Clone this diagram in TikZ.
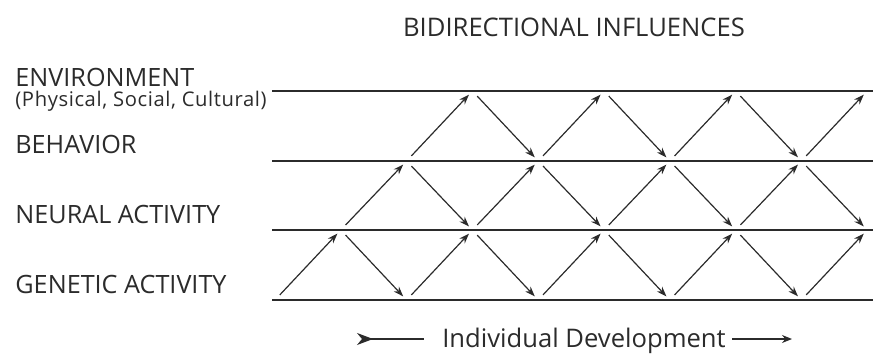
\documentclass[tikz,border=0pt]{standalone}
\usepackage{fontspec}
\setmainfont{Open Sans}
\newfontfamily\notefont[LetterSpace=3]{Open Sans}
\usetikzlibrary{arrows.meta,positioning,calc}
\definecolor{clInk}{HTML}{2B2B2B}
\tikzset{
  level/.style={anchor=base west, inner sep=0pt, text=clInk,
                font=\fontsize{12.6}{15}\selectfont},
  levelnote/.style={level, font=\notefont\fontsize{10.1}{12}\selectfont},
  caption/.style={anchor=base, inner sep=0pt, text=clInk,
                  font=\fontsize{12.8}{15}\selectfont},
  stratum/.style={line width=1pt, draw=clInk},
  influence/.style={-{Stealth[length=5pt,width=3.6pt]}, line width=0.6pt, draw=clInk,
                    shorten <=3.5pt, shorten >=2.5pt},
  timeline/.style={line width=0.6pt, draw=clInk},
}

\begin{document}
\begin{tikzpicture}[x=0.5pt, y=-0.5pt]
  \useasboundingbox (0,0) rectangle (873,354);
  \node[caption] (title) at (574,36) {BIDIRECTIONAL INFLUENCES};
  \node[level] (env) at (15,86) {ENVIRONMENT};
  \node[levelnote] (envnote) at (15,106) {(Physical, Social, Cultural)};
  \node[level] (beh) at (15,153) {BEHAVIOR};
  \node[level] (neural) at (15,223) {NEURAL ACTIVITY};
  \node[level] (genetic) at (15,293) {GENETIC ACTIVITY};
  % horizontal strata, genetic (0) up to environment (3)
  \foreach \r/\y in {0/300,1/230,2/161,3/91} {
    \coordinate (s\r-w) at (272,\y);
    \coordinate (s\r-e) at (873,\y);
    \draw[stratum] (s\r-w) -- (s\r-e);
  }
  % turning points of the zigzags
  \foreach \k in {0,2,4,6,8} \coordinate (v\k-0) at (275+65.8*\k,300);
  \foreach \k in {1,3,5,7,9} \coordinate (v\k-1) at (275+65.8*\k,230);
  \foreach \k in {2,4,6,8} \coordinate (v\k-2) at (275+65.8*\k,161);
  \foreach \k in {3,5,7,9} \coordinate (v\k-3) at (275+65.8*\k,91);
  % genetic <-> neural
  \foreach \k [evaluate=\k as \n using int(\k+1)] in {0,2,4,6,8}
    \draw[influence] (v\k-0) -- (v\n-1);
  \foreach \k [evaluate=\k as \n using int(\k+1)] in {1,3,5,7}
    \draw[influence] (v\k-1) -- (v\n-0);
  % neural <-> behavior
  \foreach \k [evaluate=\k as \n using int(\k+1)] in {1,3,5,7}
    \draw[influence] (v\k-1) -- (v\n-2);
  \foreach \k [evaluate=\k as \n using int(\k+1)] in {2,4,6,8}
    \draw[influence] (v\k-2) -- (v\n-1);
  % behavior <-> environment
  \foreach \k [evaluate=\k as \n using int(\k+1)] in {2,4,6,8}
    \draw[influence] (v\k-2) -- (v\n-3);
  \foreach \k [evaluate=\k as \n using int(\k+1)] in {3,5,7}
    \draw[influence] (v\k-3) -- (v\n-2);
  \node[caption] (devel) at (584,347) {Individual Development};
  \coordinate (devtail) at (357,339);
  \coordinate (devhead) at (792,339);
  \draw[timeline, {Stealth[reversed,length=8pt,width=6pt,inset=2.5pt]}-, shorten >=9pt]
    (devtail) -- (devtail -| devel.west);
  \draw[timeline, -{Stealth[length=5pt,width=4pt]}, shorten <=3pt]
    (devhead -| devel.east) -- (devhead);
\end{tikzpicture}
\end{document}
